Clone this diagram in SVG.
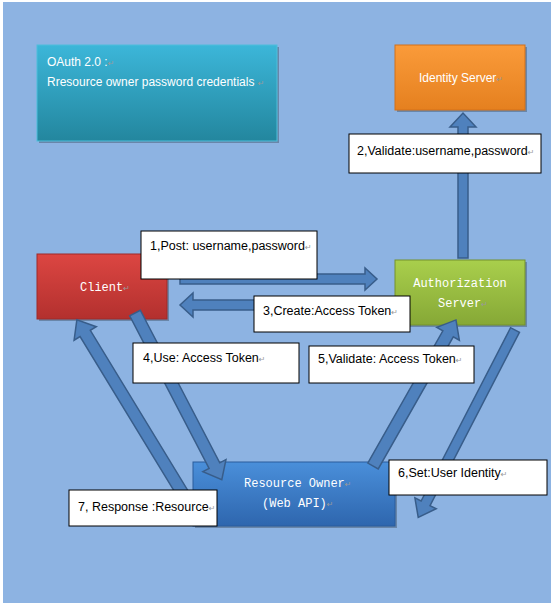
<svg xmlns="http://www.w3.org/2000/svg" width="551" height="606" viewBox="0 0 551 606">
<defs>
<linearGradient id="gTeal" x1="0" y1="0" x2="0" y2="1"><stop offset="0" stop-color="#3CB6D9"/><stop offset="1" stop-color="#23869E"/></linearGradient>
<linearGradient id="gOrange" x1="0" y1="0" x2="0" y2="1"><stop offset="0" stop-color="#FA9B3A"/><stop offset="1" stop-color="#E5801F"/></linearGradient>
<linearGradient id="gRed" x1="0" y1="0" x2="0" y2="1"><stop offset="0" stop-color="#DC4642"/><stop offset="1" stop-color="#B3302E"/></linearGradient>
<linearGradient id="gGreen" x1="0" y1="0" x2="0" y2="1"><stop offset="0" stop-color="#A9CF4C"/><stop offset="1" stop-color="#86A836"/></linearGradient>
<linearGradient id="gBlue" x1="0" y1="0" x2="0" y2="1"><stop offset="0" stop-color="#4A8FDA"/><stop offset="1" stop-color="#2E66AE"/></linearGradient>
</defs>
<style>
.shadow{fill:#000;opacity:0.25}
.node{stroke-width:1}
.ntext{font-family:"Liberation Sans",Arial,sans-serif;font-size:12px;fill:#fff}
.mono{font-family:"Liberation Mono","Courier New",monospace;font-size:12px;fill:#fff}
.lbl{fill:#fff;stroke:#000;stroke-width:1}
.ltext{font-family:"Liberation Sans",Arial,sans-serif;font-size:12.5px;fill:#000}
.pm{font-family:"DejaVu Sans",sans-serif;font-size:8px;fill:#999}
.arrow{fill:#4F81BD;stroke:#385D8A;stroke-width:1.5;stroke-linejoin:miter}
</style>
<rect x="0" y="0" width="551" height="606" fill="#fff"/>
<rect x="3" y="2" width="548" height="601" fill="#8DB3E2"/>

<g id="oauth-note">
<rect class="shadow" x="39" y="47" width="240" height="96"/>
<rect class="node" x="37" y="45" width="240" height="96" fill="url(#gTeal)" stroke="#4FBEDB"/>
<text class="ntext" x="47" y="66">OAuth 2.0 :<tspan class="pm">↵</tspan></text>
<text class="ntext" x="47" y="86">Rresource owner  password credentials <tspan class="pm">↵</tspan></text>
</g>

<g id="identity-server">
<rect class="shadow" x="397" y="47" width="130" height="65"/>
<rect class="node" x="395" y="45" width="130" height="65" fill="url(#gOrange)" stroke="#D2711A"/>
<text class="ntext" x="419" y="82">Identity Server<tspan class="pm">↵</tspan></text>
</g>

<g id="client">
<rect class="shadow" x="39" y="256" width="130" height="65"/>
<rect class="node" x="37" y="254" width="130" height="65" fill="url(#gRed)" stroke="#9E2A28"/>
<text class="mono" x="80" y="291">Client<tspan class="pm">↵</tspan></text>
</g>

<g id="authorization-server">
<rect class="shadow" x="397" y="262" width="130" height="65"/>
<rect class="node" x="395" y="260" width="130" height="65" fill="url(#gGreen)" stroke="#74922D"/>
<text class="mono" x="460" y="287" text-anchor="middle">Authorization</text>
<text class="mono" x="438" y="307">Server<tspan class="pm">↵</tspan></text>
</g>

<g id="resource-owner">
<rect class="shadow" x="195" y="464" width="202" height="64"/>
<rect class="node" x="193" y="462" width="202" height="64" fill="url(#gBlue)" stroke="#2A5C9C"/>
<text class="mono" x="244" y="487">Resource Owner<tspan class="pm">↵</tspan></text>
<text class="mono" x="262" y="507">(Web API)<tspan class="pm">↵</tspan></text>
</g>

<g id="connectors">
<polygon class="arrow" transform="translate(463,258) rotate(-90)" points="0,-5 131,-5 131,-13 145,0 131,13 131,5 0,5"/>
<polygon class="arrow" transform="translate(180,279)" points="0,-5 185,-5 185,-11 197,0 185,11 185,5 0,5"/>
<polygon class="arrow" transform="translate(395,305) rotate(180)" points="0,-5 202,-5 202,-12 215,0 202,12 202,5 0,5"/>
<polygon class="arrow" transform="translate(135,313) rotate(62.5)" points="0,-6 172,-6 172,-13 188,0 172,13 172,6 0,6"/>
<polygon class="arrow" transform="translate(183,494) rotate(-121.35)" points="0,-6 188,-6 188,-13 204,0 188,13 188,6 0,6"/>
<polygon class="arrow" transform="translate(373,466) rotate(-60.4)" points="0,-6 152,-6 152,-13 168,0 152,13 152,6 0,6"/>
<polygon class="arrow" transform="translate(515,330) rotate(117.3)" points="0,-5 195,-5 195,-12 211,0 195,12 195,5 0,5"/>
</g>

<g id="labels">
<g id="label-1"><rect class="lbl" x="141" y="231" width="176" height="48"/><text class="ltext" x="150" y="250">1,Post: username,password<tspan class="pm">↵</tspan></text></g>
<g id="label-2"><rect class="lbl" x="349" y="134" width="192" height="39"/><text class="ltext" x="357" y="155">2,Validate:username,password<tspan class="pm">↵</tspan></text></g>
<g id="label-3"><rect class="lbl" x="254" y="296" width="156" height="36"/><text class="ltext" x="263" y="315">3,Create:Access Token<tspan class="pm">↵</tspan></text></g>
<g id="label-4"><rect class="lbl" x="133" y="343" width="166" height="40"/><text class="ltext" x="143" y="362">4,Use: Access Token<tspan class="pm">↵</tspan></text></g>
<g id="label-5"><rect class="lbl" x="309" y="346" width="165" height="37"/><text class="ltext" x="318" y="363">5,Validate: Access Token<tspan class="pm">↵</tspan></text></g>
<g id="label-6"><rect class="lbl" x="389" y="460" width="158" height="35"/><text class="ltext" x="398" y="477">6,Set:User Identity<tspan class="pm">↵</tspan></text></g>
<g id="label-7"><rect class="lbl" x="69" y="490" width="148" height="36"/><text class="ltext" x="78" y="511">7, Response :Resource<tspan class="pm">↵</tspan></text></g>
</g>
</svg>
